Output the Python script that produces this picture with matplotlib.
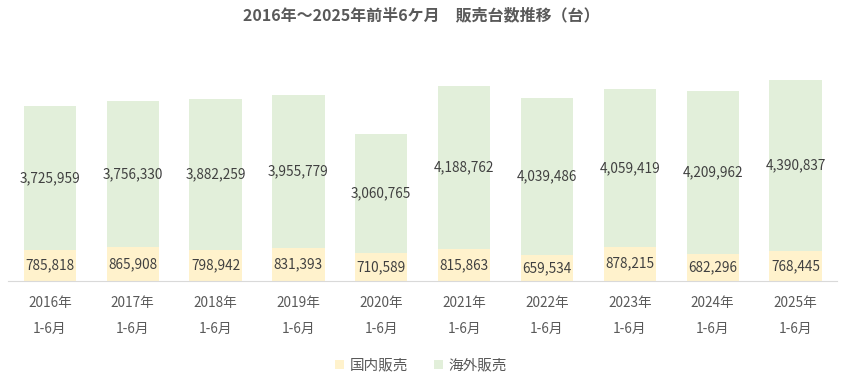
import matplotlib.pyplot as plt
import numpy as np

plt.rcParams['font.family'] = ['Noto Sans CJK JP', 'DejaVu Sans']

# データ
years = ['2016年\n1-6月', '2017年\n1-6月', '2018年\n1-6月', '2019年\n1-6月', '2020年\n1-6月',
         '2021年\n1-6月', '2022年\n1-6月', '2023年\n1-6月', '2024年\n1-6月', '2025年\n1-6月']
domestic = [785818, 865908, 798942, 831393, 710589, 815863, 659534, 878215, 682296, 768445]
overseas = [3725959, 3756330, 3882259, 3955779, 3060765, 4188762, 4039486, 4059419, 4209962, 4390837]

c_dom = '#FFF2CC'
c_ovs = '#E2EFDA'
txt = '#404040'

fig = plt.figure(figsize=(8.42, 3.82), dpi=100)
ax = fig.add_axes([0.010, 0.265, 0.984, 0.61])

x = np.arange(len(years))
w = 0.63
b1 = ax.bar(x, domestic, w, color=c_dom, label='国内販売')
b2 = ax.bar(x, overseas, w, bottom=domestic, color=c_ovs, label='海外販売')

for i in range(len(years)):
    ax.text(x[i], domestic[i] / 2, f'{domestic[i]:,}', ha='center', va='center',
            fontsize=9.8, color=txt)
    ax.text(x[i], domestic[i] + overseas[i] / 2, f'{overseas[i]:,}', ha='center', va='center',
            fontsize=9.8, color=txt)

ax.set_xlim(-0.5, len(years) - 0.5)
ax.set_ylim(0, 6000000)
ax.set_yticks([])
ax.set_xticks(x)
ax.set_xticklabels(years, fontsize=9.8, color='#595959', linespacing=2.1)
ax.tick_params(axis='x', length=0, pad=11)
for s in ['top', 'right', 'left']:
    ax.spines[s].set_visible(False)
ax.spines['bottom'].set_color('#D9D9D9')

fig.suptitle('2016年～2025年前半6ケ月　販売台数推移（台）', x=0.5, y=0.98,
             fontsize=11.5, fontweight='bold', color='#595959')

fig.legend(handles=[b1, b2], loc='lower center', bbox_to_anchor=(0.5, -0.01), ncol=2,
           frameon=False, fontsize=10.5, handlelength=0.6, handleheight=0.6,
           columnspacing=1.8, handletextpad=0.4, labelcolor='#595959')

fig.savefig('out.png', dpi=100)
